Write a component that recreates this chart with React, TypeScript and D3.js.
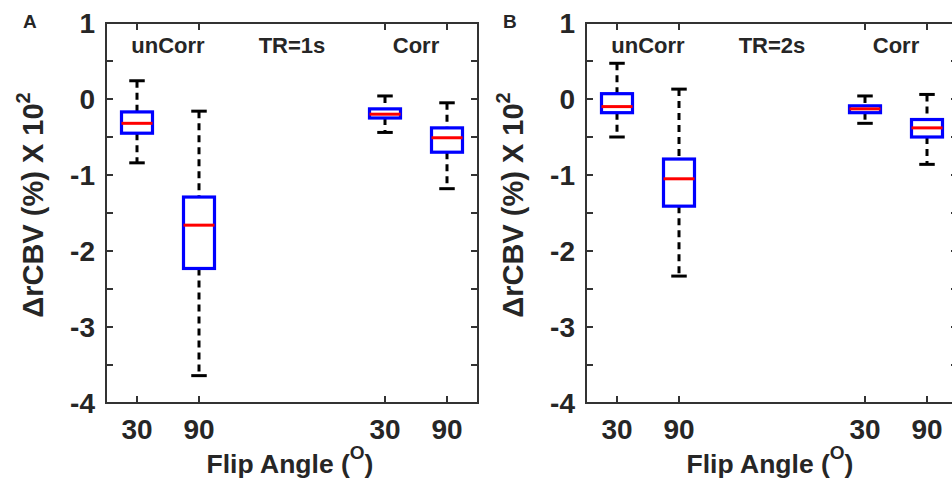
import React from 'react';
import * as d3 from 'd3';

// flip angle categories, placed at x = 1, 2 (unCorr) and 5, 6 (Corr)
const flipLabels = ['30', '90', '30', '90'];
const positions = [1, 2, 5, 6];

// TR = 1s box stats (upper whisker, q3, median, q1, lower whisker)
const tr1Upper = [0.24, -0.16, 0.04, -0.05];
const tr1Q3 = [-0.17, -1.29, -0.13, -0.38];
const tr1Median = [-0.32, -1.66, -0.2, -0.51];
const tr1Q1 = [-0.45, -2.23, -0.25, -0.7];
const tr1Lower = [-0.84, -3.64, -0.44, -1.18];

// TR = 2s box stats
const tr2Upper = [0.47, 0.13, 0.04, 0.06];
const tr2Q3 = [0.07, -0.79, -0.09, -0.27];
const tr2Median = [-0.1, -1.05, -0.13, -0.38];
const tr2Q1 = [-0.18, -1.41, -0.18, -0.5];
const tr2Lower = [-0.5, -2.33, -0.32, -0.86];

const yTicks = [1, 0.5, 0, -0.5, -1, -1.5, -2, -2.5, -3, -3.5, -4];
const yTickLabels = ['1', '', '0', '', '-1', '', '-2', '', '-3', '', '-4'];

const FONT = '"Liberation Sans", Arial, sans-serif';
const INK = '#262626';
const FRAME = '#333333';

type PanelProps = {
  left: number;
  letter: string;
  trLabel: string;
  upper: number[];
  q3: number[];
  median: number[];
  q1: number[];
  lower: number[];
};

const Panel = ({ left, letter, trLabel, upper, q3, median, q1, lower }: PanelProps) => {
  const top = 23;
  const bottom = 403;
  const right = left + 372;

  const x = d3.scaleLinear().domain([0.5, 6.5]).range([left, right]);
  const y = d3.scaleLinear().domain([-4, 1]).range([bottom, top]);

  const boxW = x(1.25) - x(1); // half-width of box (0.25 units)
  const capW = x(1.125) - x(1);
  const tickLen = 7;

  return (
    <g>
      {/* panel letter */}
      <text x={left - 83} y={28} fontFamily={FONT} fontWeight="bold" fontSize={19} fill={INK}>
        {letter}
      </text>

      {/* boxes */}
      {positions.map((p, i) => {
        const cx = x(p);
        return (
          <g key={i}>
            <line x1={cx} x2={cx} y1={y(upper[i])} y2={y(q3[i])} stroke="#000" strokeWidth={3} strokeDasharray="7,5" />
            <line x1={cx} x2={cx} y1={y(q1[i])} y2={y(lower[i])} stroke="#000" strokeWidth={3} strokeDasharray="7,5" />
            <line x1={cx - capW} x2={cx + capW} y1={y(upper[i])} y2={y(upper[i])} stroke="#000" strokeWidth={3} />
            <line x1={cx - capW} x2={cx + capW} y1={y(lower[i])} y2={y(lower[i])} stroke="#000" strokeWidth={3} />
            <rect
              x={cx - boxW}
              y={y(q3[i])}
              width={boxW * 2}
              height={y(q1[i]) - y(q3[i])}
              fill="#fff"
              stroke="#0000ff"
              strokeWidth={3.2}
            />
            <line x1={cx - boxW} x2={cx + boxW} y1={y(median[i])} y2={y(median[i])} stroke="#ff0000" strokeWidth={3} />
          </g>
        );
      })}

      {/* frame */}
      <rect x={left} y={top} width={right - left} height={bottom - top} fill="none" stroke={FRAME} strokeWidth={2} />

      {/* y ticks, both sides, inside */}
      {yTicks.map((t, i) => (
        <g key={'y' + i}>
          <line x1={left} x2={left + tickLen} y1={y(t)} y2={y(t)} stroke={FRAME} strokeWidth={2} />
          <line x1={right} x2={right - tickLen} y1={y(t)} y2={y(t)} stroke={FRAME} strokeWidth={2} />
          <text
            x={left - 11}
            y={y(t) + 10}
            textAnchor="end"
            fontFamily={FONT}
            fontWeight="bold"
            fontSize={28}
            fill={INK}
          >
            {yTickLabels[i]}
          </text>
        </g>
      ))}

      {/* x ticks, top and bottom */}
      {positions.map((p, i) => (
        <g key={'x' + i}>
          <line x1={x(p)} x2={x(p)} y1={bottom} y2={bottom - tickLen} stroke={FRAME} strokeWidth={2} />
          <line x1={x(p)} x2={x(p)} y1={top} y2={top + tickLen} stroke={FRAME} strokeWidth={2} />
          <text x={x(p)} y={439} textAnchor="middle" fontFamily={FONT} fontWeight="bold" fontSize={28} fill={INK}>
            {flipLabels[i]}
          </text>
        </g>
      ))}

      {/* group annotations */}
      {[
        { t: 'unCorr', v: 1.5 },
        { t: trLabel, v: 3.5 },
        { t: 'Corr', v: 5.5 },
      ].map((a) => (
        <text key={a.t} x={x(a.v)} y={53} textAnchor="middle" fontFamily={FONT} fontWeight="bold" fontSize={22} fill={INK}>
          {a.t}
        </text>
      ))}

      {/* axis labels */}
      <text
        transform={`translate(${left - 63},${205}) rotate(-90)`}
        textAnchor="middle"
        fontFamily={FONT}
        fontWeight="bold"
        fontSize={29}
        fill={INK}
      >
        ΔrCBV (%) X 10
        <tspan fontSize={20} dy={-13}>2</tspan>
      </text>
      <text x={left + 184} y={473} textAnchor="middle" fontFamily={FONT} fontWeight="bold" fontSize={26.5} fill={INK}>
        Flip Angle (
        <tspan fontSize={19} dy={-14}>O</tspan>
        <tspan dy={14}>)</tspan>
      </text>
    </g>
  );
};

export default function App() {
  return (
    <svg
      width={952}
      height={483}
      style={{ position: 'absolute', left: 0, top: 0, background: '#fff' }}
    >
      <rect width={952} height={483} fill="#fff" />
      <Panel left={106} letter="A" trLabel="TR=1s" upper={tr1Upper} q3={tr1Q3} median={tr1Median} q1={tr1Q1} lower={tr1Lower} />
      <Panel left={586} letter="B" trLabel="TR=2s" upper={tr2Upper} q3={tr2Q3} median={tr2Median} q1={tr2Q1} lower={tr2Lower} />
    </svg>
  );
}
